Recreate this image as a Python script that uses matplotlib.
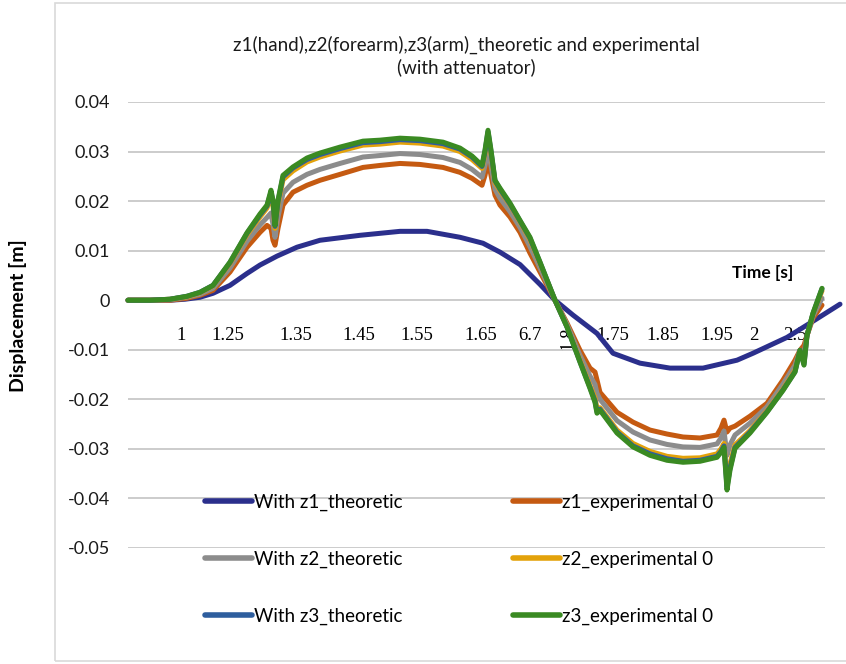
import matplotlib
matplotlib.use("Agg")
import matplotlib.pyplot as plt
from matplotlib.patches import Rectangle

###############################################################################
# Data
###############################################################################
# sample index along the time axis (category axis in the original sheet)
idx_th1 = [0, 42, 57, 72, 85, 102, 119, 132, 149, 169, 192, 232, 272, 299,
           332, 355, 372, 392, 412, 427, 445, 469, 485, 512, 542, 575, 609,
           625, 659, 679, 712]
z1_theoretic = [0.0, 0.0, 0.0002, 0.0006, 0.0014, 0.0030, 0.0054, 0.0071,
                0.0089, 0.0107, 0.0121, 0.0131, 0.0139, 0.0139, 0.0127,
                0.0115, 0.0097, 0.0072, 0.0032, 0.0, -0.0030, -0.0067,
                -0.0107, -0.0127, -0.0137, -0.0137, -0.0121, -0.0107,
                -0.0075, -0.0050, -0.0008]

idx_grp = [0, 22, 42, 59, 72, 85, 102, 119, 132, 139, 143, 145, 147, 150,
           155, 165, 179, 192, 212, 235, 252, 272, 292, 315, 332, 344, 354,
           357, 360, 363, 367, 372, 382, 392, 402, 412, 427, 439, 452, 462,
           467, 469, 472, 489, 505, 522, 539, 555, 572, 589, 593, 596, 599,
           602, 607, 622, 639, 655, 667, 672, 676, 679, 685, 694]
z1_experimental = [0.0, 0.0, 0.0, 0.0004, 0.0010, 0.0020, 0.0057, 0.0107,
                   0.0137, 0.0151, 0.0145, 0.0121, 0.0111, 0.0145, 0.0192,
                   0.0218, 0.0232, 0.0242, 0.0254, 0.0268, 0.0272, 0.0276,
                   0.0274, 0.0268, 0.0258, 0.0246, 0.0232, 0.0252, 0.0282,
                   0.0252, 0.0212, 0.0192, 0.0168, 0.0137, 0.0095, 0.0057,
                   0.0, -0.0046, -0.0101, -0.0137, -0.0145, -0.0161, -0.0186,
                   -0.0226, -0.0246, -0.0262, -0.0270, -0.0276, -0.0278,
                   -0.0272, -0.0258, -0.0242, -0.0266, -0.0258, -0.0254,
                   -0.0234, -0.0208, -0.0161, -0.0121, -0.0101, -0.0091,
                   -0.0071, -0.0036, -0.0010]
z2_theoretic = [0.0, 0.0, 0.0001, 0.0006, 0.0012, 0.0024, 0.0065, 0.0119,
                0.0152, 0.0167, 0.0176, 0.0153, 0.0127, 0.0168, 0.0216,
                0.0238, 0.0254, 0.0264, 0.0276, 0.0289, 0.0292, 0.0296,
                0.0294, 0.0288, 0.0278, 0.0264, 0.0248, 0.0272, 0.0306,
                0.0272, 0.0224, 0.0206, 0.0179, 0.0147, 0.0108, 0.0065,
                0.0, -0.0049, -0.0111, -0.0153, -0.0170, -0.0188, -0.0200,
                -0.0243, -0.0266, -0.0282, -0.0291, -0.0296, -0.0297,
                -0.0290, -0.0278, -0.0264, -0.0313, -0.0292, -0.0272,
                -0.0248, -0.0215, -0.0169, -0.0131, -0.0101, -0.0107,
                -0.0071, -0.0032, 0.0004]
z2_experimental = [0.0, 0.0, 0.0002, 0.0007, 0.0015, 0.0029, 0.0074, 0.0132,
                   0.0168, 0.0186, 0.0210, 0.0190, 0.0145, 0.0193, 0.0243,
                   0.0261, 0.0279, 0.0289, 0.0301, 0.0313, 0.0315, 0.0319,
                   0.0317, 0.0311, 0.0300, 0.0284, 0.0266, 0.0295, 0.0334,
                   0.0295, 0.0237, 0.0221, 0.0192, 0.0158, 0.0122, 0.0074,
                   0.0, -0.0053, -0.0121, -0.0172, -0.0197, -0.0218, -0.0217,
                   -0.0262, -0.0289, -0.0305, -0.0315, -0.0319, -0.0318,
                   -0.0310, -0.0300, -0.0289, -0.0366, -0.0330, -0.0292,
                   -0.0263, -0.0223, -0.0179, -0.0141, -0.0101, -0.0125,
                   -0.0071, -0.0028, 0.0019]
z3_theoretic = [0.0, 0.0, 0.0002, 0.0008, 0.0016, 0.0030, 0.0076, 0.0135,
                0.0172, 0.0190, 0.0218, 0.0198, 0.0149, 0.0199, 0.0249,
                0.0267, 0.0284, 0.0294, 0.0306, 0.0318, 0.0320, 0.0324,
                0.0322, 0.0316, 0.0305, 0.0289, 0.0270, 0.0300, 0.0340,
                0.0300, 0.0241, 0.0224, 0.0194, 0.0160, 0.0125, 0.0076,
                0.0, -0.0054, -0.0124, -0.0176, -0.0203, -0.0225, -0.0220,
                -0.0266, -0.0294, -0.0310, -0.0320, -0.0325, -0.0323,
                -0.0315, -0.0305, -0.0294, -0.0377, -0.0339, -0.0297,
                -0.0266, -0.0225, -0.0181, -0.0144, -0.0101, -0.0129,
                -0.0071, -0.0027, 0.0023]
z3_experimental = [0.0, 0.0, 0.0002, 0.0008, 0.0016, 0.0030, 0.0077, 0.0136,
                   0.0174, 0.0192, 0.0222, 0.0202, 0.0151, 0.0202, 0.0252,
                   0.0269, 0.0287, 0.0297, 0.0309, 0.0321, 0.0323, 0.0327,
                   0.0325, 0.0319, 0.0307, 0.0291, 0.0272, 0.0303, 0.0343,
                   0.0303, 0.0242, 0.0226, 0.0196, 0.0161, 0.0127, 0.0077,
                   0.0, -0.0054, -0.0125, -0.0178, -0.0206, -0.0228, -0.0222,
                   -0.0268, -0.0296, -0.0313, -0.0323, -0.0327, -0.0325,
                   -0.0317, -0.0307, -0.0297, -0.0383, -0.0343, -0.0299,
                   -0.0268, -0.0226, -0.0182, -0.0145, -0.0101, -0.0131,
                   -0.0071, -0.0026, 0.0024]

# category labels as they appear under the zero line
tick_idx = [53, 100, 168, 231, 289, 353, 402, 440, 485, 535, 589, 626, 667]
tick_lbl = ['1', '1.25', '1.35', '1.45', '1.55', '1.65', '6.7', '1.8',
            '1.75', '1.85', '1.95', '2', '2.5']
y_ticks = [0.04, 0.03, 0.02, 0.01, 0.0, -0.01, -0.02, -0.03, -0.04, -0.05]
y_lbl = ['0.04', '0.03', '0.02', '0.01', '0', '-0.01', '-0.02', '-0.03',
         '-0.04', '-0.05']

###############################################################################
# Plot
###############################################################################
plt.rcParams['font.family'] = ['Lato', 'DejaVu Sans']
(W, H, DPI) = (846, 664, 100)
fig = plt.figure(figsize=(W/DPI, H/DPI), dpi=DPI)
ax = fig.add_axes([128/W, 1-548/H, 697/W, 446/H])

LW = 3.6
series = [
    (idx_th1, z1_theoretic, '#2B2F8C', 'With z1_theoretic'),
    (idx_grp, z1_experimental, '#C55A11', 'z1_experimental 0'),
    (idx_grp, z2_theoretic, '#8C8C8C', 'With z2_theoretic'),
    (idx_grp, z2_experimental, '#E3A20A', 'z2_experimental 0'),
    (idx_grp, z3_theoretic, '#2E5E9E', 'With z3_theoretic'),
    (idx_grp, z3_experimental, '#3A8A22', 'z3_experimental 0'),
]
lines = {}
for (x, y, c, lab) in series:
    (ln, ) = ax.plot(x, y, color=c, lw=LW, label=lab, clip_on=False,
                     solid_capstyle='round', solid_joinstyle='round')
    lines[lab] = ln

ax.set_xlim(0, 697)
ax.set_ylim(-0.05, 0.04)
ax.set_yticks(y_ticks, y_lbl)
ax.grid(axis='y', color='#C8C8C8', lw=1.3)
ax.set_axisbelow(True)
for s in ax.spines.values():
    s.set_visible(False)
ax.spines['bottom'].set_position(('data', 0))
ax.tick_params(axis='y', length=0, pad=13, labelsize=13, labelcolor='#1a1a1a')
ax.set_xticks(tick_idx, tick_lbl)
ax.tick_params(axis='x', length=0, pad=19)
for (i, t) in enumerate(ax.get_xticklabels()):
    t.set_fontfamily('Liberation Serif')
    t.set_fontsize(13.5)
    if tick_lbl[i] == '1.8':
        t.set_rotation(90)

ax.set_xlabel('Time [s]', fontsize=12.5, fontweight='bold')
ax.xaxis.set_label_coords((763-128)/697, (548-273)/446)
ax.xaxis.label.set_va('center')
ax.set_ylabel('Displacement [m]', fontsize=14, fontweight='bold')
ax.yaxis.set_label_coords((27-128)/697, (548-316)/446)

fig.text(466/W, 1-45/H, 'z1(hand),z2(forearm),z3(arm)_theoretic and experimental',
         ha='center', va='center', fontsize=13.5, color='#1a1a1a')
fig.text(466/W, 1-67/H, '(with attenuator)',
         ha='center', va='center', fontsize=13.5, color='#1a1a1a')

order = ['With z1_theoretic', 'With z2_theoretic', 'With z3_theoretic',
         'z1_experimental 0', 'z2_experimental 0', 'z3_experimental 0']
leg = fig.legend([lines[k] for k in order], order, ncol=2, frameon=False,
                 loc='upper left', bbox_to_anchor=(205/W, 1-494/H),
                 borderpad=0, borderaxespad=0, fontsize=13.5,
                 handlelength=2.5, handletextpad=0.1, columnspacing=5.9,
                 labelspacing=2.12)
for lh in leg.get_lines():
    lh.set_linewidth(4)

fig.patches.append(Rectangle((55/W, 3/H), 1.0, 658/H, transform=fig.transFigure,
                             fill=False, ec='#D9D9D9', lw=1.2))

fig.savefig('out.png', dpi=DPI)
plt.close('all')
